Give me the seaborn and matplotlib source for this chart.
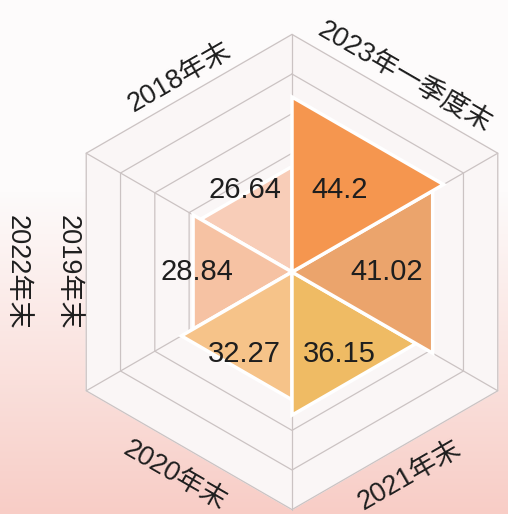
import numpy as np
import matplotlib
matplotlib.use("Agg")
import matplotlib.pyplot as plt
from matplotlib.colors import LinearSegmentedColormap
import seaborn as sns

# data, counter-clockwise starting at the upper-left edge
categories = ["2018年末", "2019年末", "2020年末", "2021年末", "2022年末", "2023年一季度末"]
values = [26.64, 28.84, 32.27, 36.15, 41.02, 44.2]
value_labels = ["26.64", "28.84", "32.27", "36.15", "41.02", "44.2"]
colors = ["#f8cdb8", "#f6c2a3", "#f6c389", "#efbb64", "#eba46c", "#f5964f"]
ring_levels = [10, 20, 30, 40, 50, 60]

sns.set_theme(style="white")
plt.rcParams["font.family"] = ["Liberation Sans", "Noto Sans CJK SC", "DejaVu Sans"]

W, H = 508, 514
cx, cy = 292, 272      # centre of the hexagon, pixels
scale = 3.96           # pixels per unit

fig = plt.figure(figsize=(W / 100, H / 100), dpi=100)

# soft background: white at the top, pink towards the bottom
bg = fig.add_axes([0, 0, 1, 1], zorder=0)
rows = np.arange(H)
t = np.clip((rows - 190) / (H - 190), 0, 1).reshape(-1, 1)
cmap = LinearSegmentedColormap.from_list("bg", ["#fdfbfb", "#f8cdc6"])
bg.imshow(t, cmap=cmap, aspect="auto", extent=[0, 1, 0, 1], vmin=0, vmax=1)
bg.axis("off")

ax = fig.add_axes([0, 0, 1, 1], zorder=1)
ax.patch.set_alpha(0)
ax.set_xlim(-cx / scale, (W - cx) / scale)
ax.set_ylim(-(H - cy) / scale, cy / scale)
ax.axis("off")

# hexagon grid
vert_ang = np.deg2rad([90, 30, -30, -90, -150, 150, 90])
top = ring_levels[-1]
ax.fill(top * np.cos(vert_ang), top * np.sin(vert_ang), color="#faf6f6", zorder=1)
for lv in ring_levels:
    ax.plot(lv * np.cos(vert_ang), lv * np.sin(vert_ang), color="#cbc3c3", lw=0.9, zorder=2)
for a in vert_ang[:-1]:
    ax.plot([0, top * np.cos(a)], [0, top * np.sin(a)], color="#cbc3c3", lw=0.9, zorder=2)

# one triangle per category
for i, (v, c) in enumerate(zip(values, colors)):
    mid = 120 + 60 * i
    a1, a2 = np.deg2rad(mid - 30), np.deg2rad(mid + 30)
    xs = [0, v * np.cos(a1), v * np.cos(a2)]
    ys = [0, v * np.sin(a1), v * np.sin(a2)]
    ax.fill(xs, ys, facecolor=c, edgecolor="white", lw=2.5, joinstyle="miter", zorder=3)
    m = np.deg2rad(mid)
    ax.text(24 * np.cos(m), 24 * np.sin(m), value_labels[i], ha="center", va="center",
            fontsize=21, color="#1e1e1e", zorder=4)
    # category label along the outer edge
    r_lab = 59.3 if np.sin(m) < -0.1 else 56.6
    rot = (mid % 180) - 90
    ax.text(r_lab * np.cos(m), r_lab * np.sin(m), categories[i], ha="center", va="center",
            rotation=rot, rotation_mode="anchor", fontsize=19.5, color="#1e1e1e", zorder=4)

# stray label at the far left edge of the picture
fig.text(17 / W, 1 - 272 / H, categories[4], ha="center", va="center", rotation=-90,
         fontsize=19.5, color="#1e1e1e", zorder=5)

fig.savefig("out.png", dpi=100)
